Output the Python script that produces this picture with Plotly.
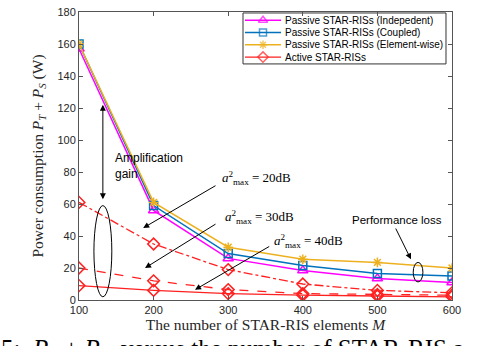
import plotly.graph_objects as go

# number of STAR-RIS elements
M = [100, 200, 300, 400, 500, 600]

# power consumption P_T + P_S (W)
passive_indep = [157, 56, 26, 18.5, 13.5, 11]
passive_coupled = [160, 59, 29, 21.5, 16.5, 15]
passive_elem = [160, 61, 33, 25.5, 23.5, 20]
active_20db = [61, 35, 19, 10, 6, 4.5]
active_30db = [20, 12, 6.5, 4, 3.5, 3]
active_40db = [9, 6, 4, 3, 2.5, 2]

legend_names = ['Passive STAR-RISs (Indepedent)', 'Passive STAR-RISs (Coupled)',
                'Passive STAR-RISs (Element-wise)', 'Active STAR-RISs']

serif = "Liberation Serif"
sans = "Liberation Sans"
RED = '#FF2020'

styles = [
    dict(color='#FF00FF', symbol='triangle-up-open', size=9, lw=1.5),
    dict(color='#0072BD', symbol='square-open', size=8, lw=1.5),
    dict(color='#EDB120', symbol='asterisk-open', size=8, lw=1.5),
    dict(color=RED, symbol='diamond-open', size=9, lw=1.3),
]

fig = go.Figure()

series = [passive_indep, passive_coupled, passive_elem, active_40db]
for ys, st in zip(series, styles):
    fig.add_trace(go.Scatter(
        x=M, y=ys, mode='lines+markers', showlegend=False,
        line=dict(color=st['color'], width=st['lw']),
        marker=dict(symbol=st['symbol'], size=st['size'], color=st['color'],
                    line=dict(width=1.5, color=st['color']))
    ))
for ys, dash in [(active_30db, 'dash'), (active_20db, 'dashdot')]:
    fig.add_trace(go.Scatter(
        x=M, y=ys, mode='lines+markers', showlegend=False,
        line=dict(color=RED, width=1.3, dash=dash),
        marker=dict(symbol='diamond-open', size=9, color=RED, line=dict(width=1.5, color=RED))
    ))

# compact legend (MATLAB style), drawn on an overlay axis
fig.add_shape(type='rect', xref='paper', yref='paper', x0=0.4397, x1=0.9839, y0=0.8197, y1=0.9966,
              line=dict(color='#333333', width=1), fillcolor='white', layer='below')
row_y = [0.9711, 0.9286, 0.8861, 0.8435]
for name, st, ry in zip(legend_names, styles, row_y):
    fig.add_trace(go.Scatter(
        x=[0.445, 0.4933, 0.5416], y=[ry, ry, ry], xaxis='x2', yaxis='y2',
        mode='lines+markers', showlegend=False, hoverinfo='skip', cliponaxis=False,
        line=dict(color=st['color'], width=st['lw']),
        marker=dict(symbol=st['symbol'], size=[0, st['size'] - 1, 0], color=st['color'],
                    line=dict(width=1.5, color=st['color']))
    ))
    fig.add_annotation(xref='paper', yref='paper', x=0.5469, y=ry, text=name, showarrow=False,
                       xanchor='left', yanchor='middle',
                       font=dict(family=sans, size=10, color='black'))

# ellipses
fig.add_shape(type='circle', xref='x', yref='y', x0=120, x1=144, y0=2, y1=59,
              line=dict(color='black', width=1))
fig.add_shape(type='circle', xref='x', yref='y', x0=548, x1=561, y0=11.3, y1=23.5,
              line=dict(color='black', width=1))

arrow = dict(showarrow=True, arrowhead=2, arrowsize=1.2, arrowwidth=1, arrowcolor='black',
             axref='x', ayref='y', xref='x', yref='y', text='')

# amplification gain double arrow
fig.add_annotation(x=132, y=122, ax=132, ay=62, arrowside='end+start', **arrow)
fig.add_annotation(x=145, y=84, text='Amplification<br>gain', showarrow=False,
                   xanchor='left', align='left', font=dict(family=sans, size=12, color='black'))

# a_max annotations
for lbl, tx, ty, a0, a1 in [
    ('20dB', 289, 76, (285, 72), (186, 45)),
    ('30dB', 293, 52, (285, 48), (188.5, 20)),
    ('40dB', 359, 37, (357, 34), (255.5, 6.4)),
]:
    fig.add_annotation(x=a1[0], y=a1[1], ax=a0[0], ay=a0[1], **arrow)
    fig.add_annotation(x=tx, y=ty, showarrow=False, xanchor='left',
                       text='<i>a</i><sup>2</sup><sub>max</sub> = ' + lbl,
                       font=dict(family=serif, size=13, color='black'))

# performance loss
fig.add_annotation(x=545, y=25.4, ax=523.6, ay=45.6, **arrow)
fig.add_annotation(x=526, y=50, text='Performance loss', showarrow=False,
                   font=dict(family=sans, size=11.5, color='black'))

# caption of the figure, clipped by the bottom edge
fig.add_annotation(xref='paper', yref='paper', x=-0.215, y=-0.113, xanchor='left', yanchor='top',
                   text='5:  <i>P<sub>T</sub></i> + <i>P<sub>S</sub></i>  versus the number of STAR-RIS a',
                   showarrow=False, font=dict(family=serif, size=25, color='black'))

axis_common = dict(showline=True, mirror='ticks', linecolor='#555555', linewidth=1,
                   ticks='inside', ticklen=4, tickcolor='#555555', showgrid=False, zeroline=False,
                   ticklabeloverflow='allow',
                   tickfont=dict(family=sans, size=11, color='#262626'))

fig.update_xaxes(range=[100, 600], dtick=100,
                 title=dict(text='The number of STAR-RIS elements <i>M</i>', standoff=2,
                            font=dict(family=serif, size=15.5, color='#262626')),
                 **axis_common)
fig.update_yaxes(range=[0, 180], dtick=20,
                 title=dict(text='Power consumption <i>P<sub>T</sub></i> + <i>P<sub>S</sub></i> (W)', standoff=10,
                            font=dict(family=serif, size=15.5, color='#262626')),
                 **axis_common)

fig.update_layout(
    width=486, height=346,
    margin=dict(l=79, r=34, t=6, b=46),
    plot_bgcolor='white', paper_bgcolor='white',
    showlegend=False,
    xaxis2=dict(overlaying='x', range=[0, 1], visible=False),
    yaxis2=dict(overlaying='y', range=[0, 1], visible=False),
)

# drop the default page margin so the chart sits at the window's corner
fig.write_html("out.html", config={'displayModeBar': False},
               post_script="document.body.style.margin='0';")
